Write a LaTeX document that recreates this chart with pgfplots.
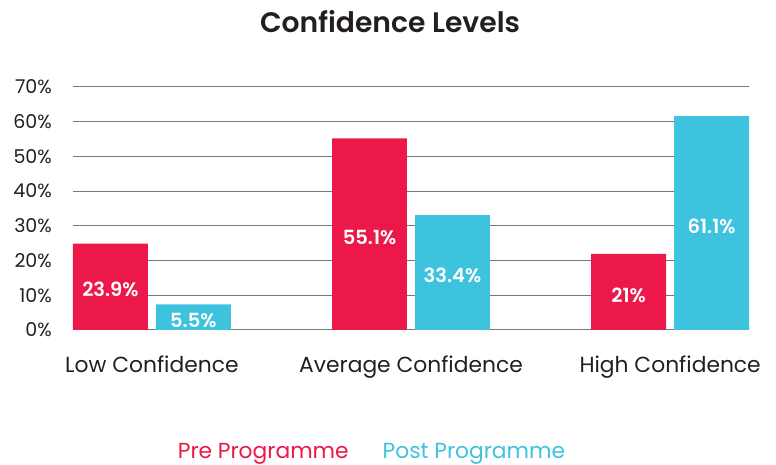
\documentclass[border=0pt]{standalone}
\usepackage{fontspec}
\setmainfont{Poppins}
\newfontfamily\semib{Poppins SemiBold}
\newfontfamily\medf{Poppins Medium}
\usepackage{pgfplots}
\pgfplotsset{compat=1.18}
\usepackage{pgfplotstable}
\definecolor{prered}{RGB}{237,24,74}
\definecolor{postcyan}{RGB}{62,195,222}
\definecolor{txt}{RGB}{35,31,32}
\definecolor{gridc}{RGB}{120,120,120}

\pgfplotstableread{
x y label
0 24.9 23.9
1 55.2 55.1
2 21.9 21
}\pre
\pgfplotstableread{
x y label
0 7.4 5.5
1 33.1 33.4
2 61.6 61.1
}\post

\begin{document}
\begin{tikzpicture}
\useasboundingbox (0,0) rectangle (776pt,465pt);
\begin{axis}[
  at={(73pt,135pt)}, anchor=south west,
  scale only axis, width=676pt, height=243pt,
  xmin=-0.3044, xmax=2.3044, ymin=0, ymax=70,
  ybar,
  axis line style={draw=none},
  major tick length=0pt,
  ymajorgrids, grid style={gridc, line width=1pt},
  ytick={0,10,...,70},
  yticklabel={\pgfmathprintnumber{\tick}\%},
  /pgf/number format/assume math mode=true,
  yticklabel style={font=\fontsize{19}{23}\selectfont, color=txt, anchor=east, inner sep=0pt, xshift=-21pt},
  xtick={0,1,2},
  xticklabels={Low Confidence, Average Confidence, High Confidence},
  xticklabel style={font=\fontsize{21.8}{26}\selectfont, color=txt, anchor=base, inner sep=0pt, yshift=-43pt},
  bar width=0.289,
  point meta=explicit symbolic,
  nodes near coords={\pgfplotspointmeta\%},
  visualization depends on={y \as \rawy},
  every node near coord/.append style={font=\fontsize{19.5}{24}\selectfont\semib, color=white, anchor=center, yshift=-3pt, shift={(axis direction cs:0,-\rawy/2)}},
  legend style={at={(0.4416,-0.502)}, anchor=center, draw=none, fill=none, legend columns=2,
    font=\fontsize{21.8}{26}\selectfont,
    /tikz/every even column/.append style={column sep=30pt}},
  legend image code/.code={},
]
\addplot[bar shift=-0.16, fill=prered, draw=none] table[x=x, y=y, meta=label] {\pre};
\addlegendentry{\textcolor{prered}{Pre Programme}}
\addplot[bar shift=0.16, fill=postcyan, draw=none] table[x=x, y=y, meta=label] {\post};
\addlegendentry{\textcolor{postcyan}{Post Programme}}
\end{axis}
\node[font=\fontsize{28.2}{33}\selectfont\semib, color=txt, anchor=base] at (390pt,432pt) {Confidence Levels};
\end{tikzpicture}
\end{document}
